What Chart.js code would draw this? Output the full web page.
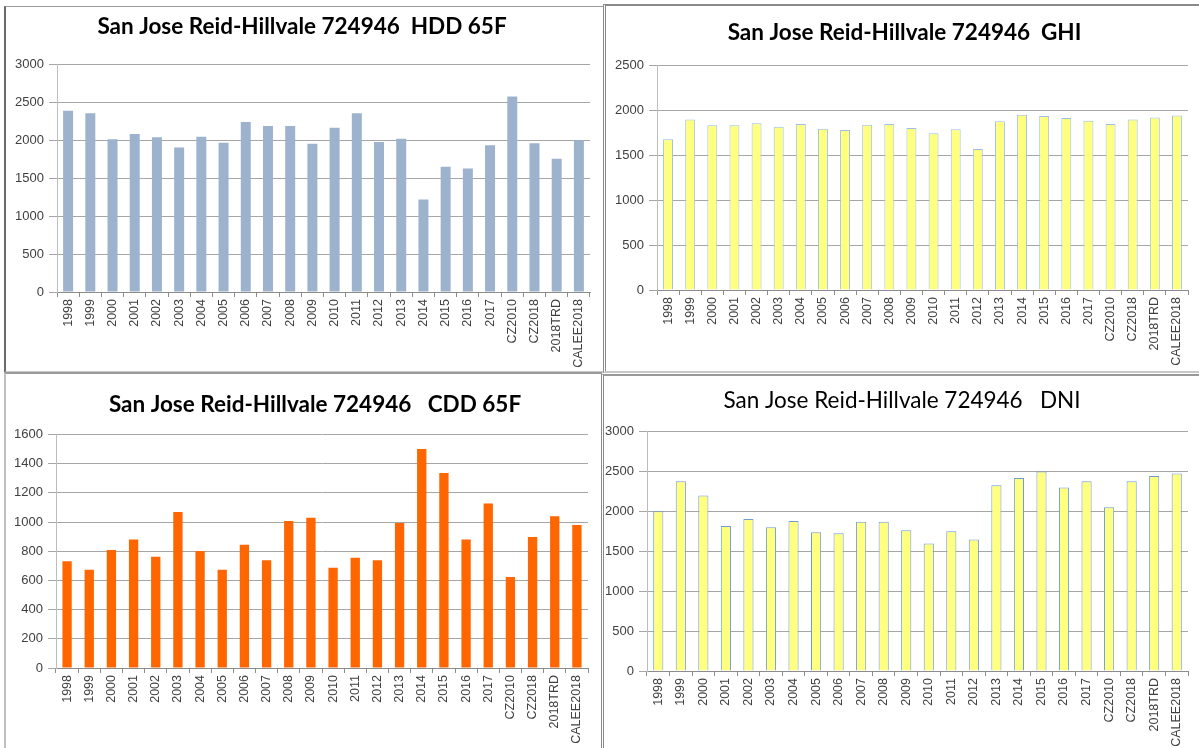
<!DOCTYPE html>
<html>
<head>
<meta charset="utf-8">
<script src="https://cdn.jsdelivr.net/npm/chart.js@4.4.1/dist/chart.umd.min.js"></script>
<style>
  html, body { margin: 0; padding: 0; background: #ffffff; }
  body { width: 1199px; height: 748px; position: relative; overflow: hidden; }
  .panel { position: absolute; box-sizing: border-box; background: #fff; }
  .box { position: absolute; }
</style>
</head>
<body>
<div class="panel" style="left:4px;top:6px;width:603px;height:367px;border-top:1px solid #9a9a9a;border-left:2px solid #6a6a6a;border-right:2px solid #6a6a6a;border-bottom:2px solid #c8c8c8;"></div>
<div class="panel" style="left:603px;top:4px;width:596px;height:369px;border-top:2px solid #8a8a8a;border-left:3px double #8a8a8a;border-bottom:2px solid #c8c8c8;"></div>
<div class="panel" style="left:4px;top:372px;width:598px;height:376px;border-top:2px solid #9a9a9a;border-left:2px solid #c0c0c0;"></div>
<div class="panel" style="left:601px;top:374px;width:598px;height:374px;border-top:2px solid #9a9a9a;border-left:3px double #8a8a8a;"></div>

<div class="box" style="left:6px;top:7px;width:599px;height:364px;"><canvas id="c1"></canvas></div>
<div class="box" style="left:607px;top:6px;width:592px;height:366px;"><canvas id="c2"></canvas></div>
<div class="box" style="left:6px;top:374px;width:595px;height:374px;"><canvas id="c3"></canvas></div>
<div class="box" style="left:604px;top:376px;width:595px;height:372px;"><canvas id="c4"></canvas></div>

<script>
const categories = ["1998","1999","2000","2001","2002","2003","2004","2005","2006","2007","2008","2009","2010","2011","2012","2013","2014","2015","2016","2017","CZ2010","CZ2018","2018TRD","CALEE2018"];

const hddValues = [2390,2357,2015,2085,2040,1907,2048,1969,2242,2189,2189,1956,2167,2357,1978,2022,1220,1652,1630,1934,2577,1960,1758,2000];
const ghiValues = [1679,1900,1834,1834,1856,1819,1848,1797,1782,1841,1848,1804,1745,1789,1569,1878,1951,1937,1915,1885,1848,1900,1922,1944];
const cddValues = [732,673,808,881,762,1069,801,673,845,739,1007,1030,687,755,739,993,1500,1337,881,1128,623,897,1039,980];
const dniValues = [2000,2377,2198,1817,1905,1801,1880,1738,1726,1868,1868,1763,1596,1751,1646,2327,2419,2498,2298,2377,2051,2377,2444,2473];

const hddTitle = "San Jose Reid-Hillvale 724946  HDD 65F";
const ghiTitle = "San Jose Reid-Hillvale 724946  GHI";
const cddTitle = "San Jose Reid-Hillvale 724946   CDD 65F";
const dniTitle = "San Jose Reid-Hillvale 724946   DNI";

const hddTicks = {max: 3000, step: 500};
const ghiTicks = {max: 2500, step: 500};
const cddTicks = {max: 1600, step: 200};
const dniTicks = {max: 3000, step: 500};

Chart.defaults.animation = false;

const titleShift = {
  id: 'titleShift',
  afterLayout(chart, args, opts) {
    const t = chart.titleBlock;
    if (t && opts && opts.dx) { t.left += opts.dx; t.right += opts.dx; }
  }
};

function makeChart(id, cfg) {
  new Chart(document.getElementById(id), {
    type: 'bar',
    plugins: [titleShift],
    data: {
      labels: categories,
      datasets: [{
        data: cfg.values,
        backgroundColor: cfg.fill,
        borderColor: cfg.border || cfg.fill,
        borderWidth: cfg.border ? 1 : 0,
        barPercentage: cfg.barPct,
        categoryPercentage: 1.0
      }]
    },
    options: {
      responsive: true,
      maintainAspectRatio: false,
      animation: false,
      layout: { padding: { left: 0, right: cfg.pr, top: 0, bottom: 0 } },
      plugins: {
        legend: { display: false },
        tooltip: { enabled: false },
        titleShift: { dx: cfg.dx },
        title: {
          display: true,
          text: cfg.title,
          color: '#000000',
          font: { family: 'Lato', size: cfg.titleSize, weight: cfg.titleWeight, lineHeight: 1 },
          padding: { top: cfg.t1, bottom: cfg.t2 }
        }
      },
      scales: {
        x: {
          grid: { display: true, drawOnChartArea: false, drawTicks: true, tickLength: 5, color: '#8c8c8c', offset: true },
          border: { display: true, color: '#8c8c8c' },
          ticks: {
            minRotation: 90, maxRotation: 90, autoSkip: false, padding: 2,
            color: '#404040',
            font: { family: 'Liberation Sans', size: 12.5 }
          },
          afterFit: (s) => { s.height = cfg.xh; }
        },
        y: {
          min: 0, max: cfg.ticks.max,
          grid: { color: '#a6a6a6', tickLength: 8, drawTicks: true },
          border: { display: true, color: '#bdbdbd' },
          ticks: {
            stepSize: cfg.ticks.step, padding: 5,
            color: '#404040',
            font: { family: 'Liberation Sans', size: 13 },
            callback: (v) => String(v)
          },
          afterFit: (s) => { s.width = cfg.yw; }
        }
      }
    }
  });
}

makeChart('c1', { values: hddValues, fill: '#9db2cd', barPct: 0.45, title: hddTitle, titleSize: 22.5, titleWeight: 'bold',
  t1: 8, t2: 27, xh: 79, yw: 51, pr: 15, dx: 4, ticks: hddTicks });
makeChart('c2', { values: ghiValues, fill: '#ffff80', border: '#9cc0e4', barPct: 0.45, title: ghiTitle, titleSize: 22.5, titleWeight: 'bold',
  t1: 15, t2: 22, xh: 82, yw: 50, pr: 11, dx: 7, ticks: ghiTicks });
makeChart('c3', { values: cddValues, fill: '#ff6600', barPct: 0.42, title: cddTitle, titleSize: 22.5, titleWeight: 'bold',
  t1: 19, t2: 19, xh: 80, yw: 50, pr: 13, dx: 18, ticks: cddTicks });
makeChart('c4', { values: dniValues, fill: '#ffff80', border: '#6f9bd3', barPct: 0.45, title: dniTitle, titleSize: 22.5, titleWeight: 'normal',
  t1: 13, t2: 20, xh: 77, yw: 43, pr: 11, dx: 6, ticks: dniTicks });
</script>
</body>
</html>
